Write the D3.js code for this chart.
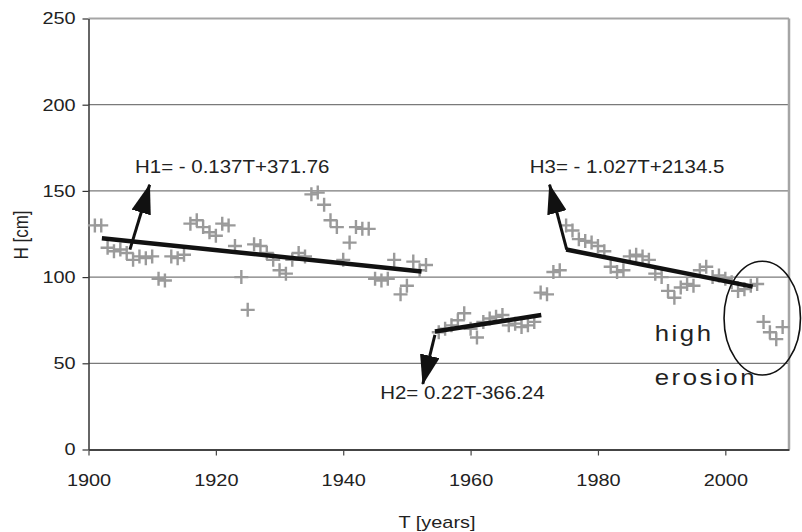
<!DOCTYPE html>
<html>
<head>
<meta charset="utf-8">
<script src="https://cdn.jsdelivr.net/npm/d3@7"></script>
<style>
  html, body { margin: 0; padding: 0; background: #fff; }
  svg { display: block; font-family: "Liberation Sans", Arial, sans-serif; }
</style>
</head>
<body>
<svg id="chart" width="802" height="532"></svg>
<script>
// ---- data ----
const years = [1901,1902,1903,1904,1905,1906,1907,1908,1909,1910,1911,1912,1913,1914,1915,1916,1917,1918,1919,1920,
  1921,1922,1923,1924,1925,1926,1927,1928,1929,1930,1931,1932,1933,1934,1935,1936,1937,1938,1939,1940,
  1941,1942,1943,1944,1945,1946,1947,1948,1949,1950,1951,1952,1953,
  1955,1956,1957,1958,1959,1960,1961,1962,1963,1964,1965,1966,1967,1968,1969,1970,1971,1972,1973,1974,
  1975,1976,1977,1978,1979,1980,1981,1982,1983,1984,1985,1986,1987,1988,1989,1990,1991,1992,1993,1994,
  1995,1996,1997,1998,1999,2000,2001,2002,2003,2004,2005,2006,2007,2008,2009];
const heights = [130,130,117,115,116,114,110,112,111,112,99,98,112,111,113,131,133,129,126,124,
  131,130,118,100,81,119,118,114,110,104,102,110,114,112,148,149,142,133,129,110,
  120,129,128,128,99,98,99,110,90,95,109,104,107,
  68,70,72,75,79,70,65,74,76,77,78,72,73,71,72,74,91,90,103,104,
  130,127,122,121,120,118,115,106,103,104,112,113,112,110,102,100,92,88,94,96,
  95,104,106,100,101,99,97,92,93,95,96,74,68,64,71];

const xTicks = [1900,1920,1940,1960,1980,2000];
const yTicks = [0,50,100,150,200,250];

// trend lines (as drawn)
const trendNames = ["H1","H2","H3"];
const trendStartYear = [1902.1,1954.4,1975.0];
const trendStartH   = [122.5,68.4,116.0];
const trendEndYear  = [1952.3,1971.1,2004.3];
const trendEndH     = [103.3,78.0,94.5];
const trendLabels = ["H1= - 0.137T+371.76","H2= 0.22T-366.24","H3= - 1.027T+2134.5"];

// arrows from trend line to label (data coords)
const arrowFromYear = [1906.5,1954.4,1975.1];
const arrowFromH    = [115.9,66.5,115.9];
const arrowToYear   = [1909.6,1952.5,1972.4];
const arrowToH      = [153.6,38.0,153.6];

// label anchors (data coords)
const labelYear = [1907.3,1945.8,1969.3];
const labelH    = [160.3,29.5,160.3];

// ---- layout ----
const svg = d3.select("#chart");
const SX = 1.17; // horizontal stretch of the original typography
const x = d3.scaleLinear().domain([1900,2010]).range([88.5,789]);
const y = d3.scaleLinear().domain([0,250]).range([449.5,18.5]);

function stretchedText(g, px, py, str, size, anchor, extra) {
  const t = g.append("text")
    .attr("transform", `translate(${px},${py}) scale(${SX},1)`)
    .attr("font-size", size)
    .attr("text-anchor", anchor || "start")
    .attr("fill", "#222")
    .text(str);
  if (extra) extra(t);
  return t;
}

// gridlines
svg.append("g").selectAll("line").data(yTicks.filter(d => d > 0 && d < 250)).join("line")
  .attr("x1", x(1900)).attr("x2", x(2010))
  .attr("y1", d => y(d)).attr("y2", d => y(d))
  .attr("stroke", "#7a7a7a").attr("stroke-width", 1.3);

// top & right border
svg.append("line").attr("x1", x(1900)).attr("x2", x(2010)).attr("y1", y(250)).attr("y2", y(250))
  .attr("stroke", "#a5a5a5").attr("stroke-width", 2);
svg.append("line").attr("x1", x(2010)).attr("x2", x(2010)).attr("y1", y(250)).attr("y2", y(0))
  .attr("stroke", "#a5a5a5").attr("stroke-width", 2.5);

// axes
const yAxis = svg.append("g").attr("transform", `translate(${x(1900)},0)`)
  .call(d3.axisLeft(y).tickValues(yTicks).tickSize(6).tickSizeOuter(0).tickFormat(d3.format("d")));
yAxis.select(".domain").attr("stroke", "#333").attr("stroke-width", 1.5);
yAxis.selectAll(".tick line").attr("stroke", "#333").attr("stroke-width", 1.2);
yAxis.selectAll(".tick text").attr("font-size", 17).attr("fill", "#222")
  .attr("x", -11).attr("font-family", "Liberation Sans, Arial, sans-serif")
  .attr("transform", `scale(${SX},1)`);

const xAxis = svg.append("g").attr("transform", `translate(0,${y(0)})`)
  .call(d3.axisBottom(x).tickValues(xTicks).tickSize(6).tickSizeOuter(0).tickFormat(d3.format("d")));
xAxis.select(".domain").attr("stroke", "#444").attr("stroke-width", 2);
xAxis.selectAll(".tick line").attr("stroke", "#444").attr("stroke-width", 1.2);
xAxis.selectAll(".tick text").attr("font-size", 17).attr("fill", "#222")
  .attr("y", 24).attr("font-family", "Liberation Sans, Arial, sans-serif")
  .attr("transform", `scale(${SX},1)`);

// axis titles
stretchedText(svg, 437, 528, "T [years]", 17, "middle");
svg.append("text")
  .attr("transform", `translate(28,235) rotate(-90) scale(1,${SX})`)
  .attr("font-size", 17).attr("text-anchor", "middle").attr("fill", "#222")
  .text("H [cm]");

// data markers "+"
const pts = years.map((yr, i) => ({yr, h: heights[i]}));
const half = 7;
svg.append("g").selectAll("path").data(pts).join("path")
  .attr("d", d => {
    const cx = x(d.yr), cy = y(d.h);
    return `M${cx-half},${cy}H${cx+half}M${cx},${cy-half}V${cy+half}`;
  })
  .attr("stroke", "#9a9a9a").attr("stroke-width", 2.4).attr("fill", "none");

// arrowhead marker
const defs = svg.append("defs");
defs.append("marker").attr("id", "ah")
  .attr("markerUnits", "userSpaceOnUse")
  .attr("viewBox", "0 0 30 20").attr("markerWidth", 30).attr("markerHeight", 20)
  .attr("refX", 29).attr("refY", 10).attr("orient", "auto")
  .append("path").attr("d", "M0,0L30,10L0,20Z").attr("fill", "#111");

// trend lines
svg.append("g").selectAll("line").data(trendNames).join("line")
  .attr("x1", (d,i) => x(trendStartYear[i])).attr("y1", (d,i) => y(trendStartH[i]))
  .attr("x2", (d,i) => x(trendEndYear[i])).attr("y2", (d,i) => y(trendEndH[i]))
  .attr("stroke", "#111").attr("stroke-width", 4.5);

// arrows
svg.append("g").selectAll("line").data(trendNames).join("line")
  .attr("x1", (d,i) => x(arrowFromYear[i])).attr("y1", (d,i) => y(arrowFromH[i]))
  .attr("x2", (d,i) => x(arrowToYear[i])).attr("y2", (d,i) => y(arrowToH[i]))
  .attr("stroke", "#111").attr("stroke-width", 3)
  .attr("marker-end", "url(#ah)");

// equation labels
trendLabels.forEach((lab, i) => {
  stretchedText(svg, x(labelYear[i]), y(labelH[i]), lab, 17.5, "start");
});

// high erosion annotation
const ellipseYear = 2005.8, ellipseH = 76.2, ellipseRYears = 6.0, ellipseRH = 33;
svg.append("ellipse")
  .attr("cx", x(ellipseYear)).attr("cy", y(ellipseH))
  .attr("rx", x(ellipseYear + ellipseRYears) - x(ellipseYear))
  .attr("ry", y(ellipseH - ellipseRH) - y(ellipseH))
  .attr("fill", "none").attr("stroke", "#111").attr("stroke-width", 1.6);

stretchedText(svg, x(1988.9), y(62.9), "high", 22, "start", t => t.attr("letter-spacing", 2.2));
stretchedText(svg, x(1988.9), y(37.4), "erosion", 22, "start", t => t.attr("letter-spacing", 2.2));
</script>
</body>
</html>
